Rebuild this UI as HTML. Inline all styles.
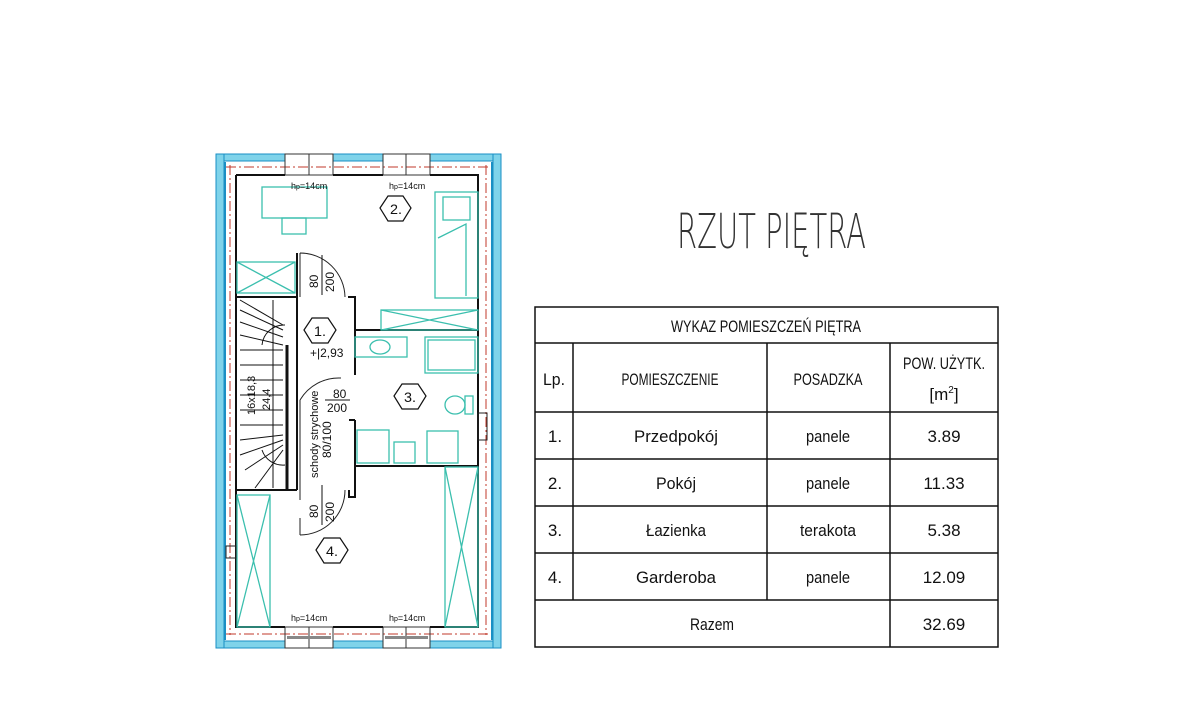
<!DOCTYPE html>
<html><head><meta charset="utf-8"><style>html,body{margin:0;padding:0;background:#fff}svg{display:block}</style></head><body>
<svg width="1184" height="719" viewBox="0 0 1184 719" xmlns="http://www.w3.org/2000/svg" font-family="Liberation Sans, sans-serif">
<rect width="1184" height="719" fill="#fff"/>
<g fill="#7fd3ea" stroke="#1a8fc4" stroke-width="1">
<rect x="216" y="154" width="8" height="494"/>
<rect x="493" y="154" width="8" height="494"/>
<rect x="224" y="154" width="61" height="7"/><rect x="333" y="154" width="50" height="7"/><rect x="430" y="154" width="63" height="7"/>
<rect x="224" y="641" width="61" height="7"/><rect x="333" y="641" width="50" height="7"/><rect x="430" y="641" width="63" height="7"/>
</g>
<g stroke="#1a8fc4" stroke-width="2" fill="none"><line x1="225" y1="162" x2="225" y2="640"/><line x1="492" y1="162" x2="492" y2="640"/></g>
<g stroke="#c0392b" stroke-width="1" stroke-dasharray="10,3,2,3" fill="none">
<line x1="230" y1="165" x2="230" y2="635"/><line x1="486" y1="165" x2="486" y2="635"/>
<line x1="226" y1="167" x2="490" y2="167"/><line x1="226" y1="634" x2="490" y2="634"/>
</g>
<g stroke="#333" stroke-width="1" fill="none">
<rect x="285" y="154" width="48" height="21"/><rect x="383" y="154" width="47" height="21"/>
<rect x="285" y="627" width="48" height="21"/><rect x="383" y="627" width="47" height="21"/>
<line x1="309" y1="154" x2="309" y2="175"/><line x1="406" y1="154" x2="406" y2="175"/>
<line x1="309" y1="627" x2="309" y2="648"/><line x1="406" y1="627" x2="406" y2="648"/>
</g>
<g fill="#888"><rect x="287" y="636" width="44" height="3"/><rect x="385" y="636" width="43" height="3"/></g>
<g stroke="#111" stroke-width="2" fill="none">
<path d="M236 175 H285 M333 175 H383 M430 175 H478 V627 H430 M383 627 H333 M285 627 H236 V175"/>
<path d="M236 297 H297 V253 M297 297 V490"/>
<path d="M348 297 H355 V330 H478"/>
<path d="M355 330 V375 M355 420 V466 H478"/>
<path d="M349 420 H355 M349 490 V497 H355 V466"/>
<path d="M236 490 H297"/>
<path d="M287 345 V490" stroke-width="3"/>
</g>
<g stroke="#222" stroke-width="1" fill="none">
<path d="M300 253 V297 M300 253 A45 45 0 0 1 345 297"/>
<path d="M300 518 V535 M300 535 A45 45 0 0 0 345 490"/>
<path d="M341 378 A45 45 0 0 0 300 400"/>
<path d="M300 400 V500"/>
</g>
<g stroke="#111" stroke-width="1" fill="none">
<line x1="240" y1="300" x2="283" y2="325"/><line x1="240" y1="310" x2="283" y2="330"/><line x1="240" y1="322" x2="283" y2="337"/><line x1="240" y1="335" x2="283" y2="345"/>
<line x1="240" y1="350" x2="283" y2="350"/><line x1="240" y1="365" x2="283" y2="365"/><line x1="240" y1="380" x2="283" y2="380"/><line x1="240" y1="395" x2="283" y2="395"/><line x1="240" y1="410" x2="283" y2="410"/><line x1="240" y1="425" x2="283" y2="425"/>
<line x1="240" y1="440" x2="283" y2="435"/><line x1="240" y1="455" x2="283" y2="440"/><line x1="245" y1="470" x2="283" y2="445"/><line x1="255" y1="488" x2="283" y2="450"/>
<line x1="273" y1="300" x2="273" y2="488"/>
<path d="M262 345 A22 22 0 0 1 285 325"/><path d="M262 450 A22 22 0 0 0 285 465"/>
</g>
<g stroke="#3bbfae" stroke-width="1.3" fill="none">
<rect x="262" y="187" width="65" height="31"/><rect x="282" y="218" width="24" height="16"/>
<rect x="435" y="192" width="43" height="106"/><rect x="443" y="197" width="27" height="23"/><path d="M438 238 L466 224 V296"/>
<rect x="237" y="262" width="58" height="31"/><path d="M237 262 L295 293 M295 262 L237 293"/>
<rect x="381" y="310" width="97" height="20"/><path d="M381 310 L478 330 M478 310 L381 330"/>
<rect x="355" y="337" width="52" height="20"/><ellipse cx="380" cy="347" rx="10" ry="7"/>
<rect x="425" y="337" width="53" height="36"/><rect x="428" y="340" width="47" height="30"/>
<ellipse cx="455" cy="405" rx="10" ry="9"/><rect x="465" y="396" width="8" height="18"/>
<rect x="357" y="430" width="32" height="33"/><rect x="394" y="442" width="21" height="21"/><rect x="427" y="431" width="31" height="32"/>
<rect x="237" y="495" width="33" height="132"/><path d="M237 495 L270 627 M270 495 L237 627"/>
<rect x="445" y="467" width="33" height="160"/><path d="M445 467 L478 627 M478 467 L445 627"/>
</g>
<g stroke="#222" fill="none"><rect x="478" y="413" width="9" height="27"/><rect x="226" y="546" width="10" height="12"/></g>
<g stroke="#111" stroke-width="1.2" fill="#fff">
<polygon points="380,208 388,196 403,196 411,208 403,221 388,221"/>
<polygon points="304,330 312,318 328,318 336,330 328,343 312,343"/>
<polygon points="394,396 402,384 418,384 426,396 418,409 402,409"/>
<polygon points="316,550 324,538 340,538 348,550 340,563 324,563"/>
</g>
<g font-size="14" text-anchor="middle" fill="#111">
<text x="396" y="214" textLength="12" lengthAdjust="spacingAndGlyphs">2.</text>
<text x="320" y="336" textLength="12" lengthAdjust="spacingAndGlyphs">1.</text>
<text x="410" y="402" textLength="12" lengthAdjust="spacingAndGlyphs">3.</text>
<text x="332" y="556" textLength="12" lengthAdjust="spacingAndGlyphs">4.</text>
</g>
<g font-size="9" fill="#111">
<text x="291" y="189">h<tspan font-size="7">p</tspan>=14cm</text><text x="389" y="189">h<tspan font-size="7">p</tspan>=14cm</text>
<text x="291" y="621">h<tspan font-size="7">p</tspan>=14cm</text><text x="389" y="621">h<tspan font-size="7">p</tspan>=14cm</text>
</g>
<g font-size="12" fill="#111">
<text x="310" y="357">+|2,93</text>
<text x="333" y="398">80</text><line x1="325" y1="400" x2="350" y2="400" stroke="#111"/>
<text x="327" y="412">200</text>
<text transform="translate(318,288) rotate(-90)">80</text>
<text transform="translate(334,292) rotate(-90)">200</text>
<line x1="322" y1="255" x2="322" y2="295" stroke="#111"/>
<text transform="translate(318,518) rotate(-90)">80</text>
<text transform="translate(334,522) rotate(-90)">200</text>
<line x1="322" y1="485" x2="322" y2="525" stroke="#111"/>
<text transform="translate(331,458) rotate(-90)">80/100</text>
<text transform="translate(318,478) rotate(-90)" font-size="11">schody strychowe</text>
<text transform="translate(255,415) rotate(-90)" font-size="11">16x18,3</text>
<text transform="translate(270,410) rotate(-90)" font-size="11">24,4</text>
</g>
<text x="677" y="248" font-size="48" fill="#333" textLength="189" lengthAdjust="spacingAndGlyphs" style="font-family:'DejaVu Sans',sans-serif;font-weight:200">RZUT PIĘTRA</text>
<g stroke="#111" stroke-width="1.5" fill="none">
<rect x="535" y="307" width="463" height="340"/>
<line x1="535" y1="343" x2="998" y2="343"/><line x1="535" y1="412" x2="998" y2="412"/>
<line x1="535" y1="459" x2="998" y2="459"/><line x1="535" y1="506" x2="998" y2="506"/><line x1="535" y1="553" x2="998" y2="553"/><line x1="535" y1="600" x2="998" y2="600"/>
<line x1="573" y1="343" x2="573" y2="600"/><line x1="767" y1="343" x2="767" y2="600"/><line x1="890" y1="343" x2="890" y2="647"/>
</g>
<g font-size="17" fill="#111" text-anchor="middle">
<text x="766" y="332" textLength="190" lengthAdjust="spacingAndGlyphs">WYKAZ POMIESZCZEŃ PIĘTRA</text>
<text x="554" y="385" textLength="22" lengthAdjust="spacingAndGlyphs">Lp.</text>
<text x="670" y="385" textLength="97" lengthAdjust="spacingAndGlyphs">POMIESZCZENIE</text>
<text x="828" y="385" textLength="69" lengthAdjust="spacingAndGlyphs">POSADZKA</text>
<text x="944" y="369" textLength="82" lengthAdjust="spacingAndGlyphs">POW. UŻYTK.</text>
<text x="944" y="400">[m<tspan font-size="10" dy="-7">2</tspan><tspan dy="7">]</tspan></text>
<text x="555" y="442">1.</text><text x="676" y="442" textLength="84" lengthAdjust="spacingAndGlyphs">Przedpokój</text><text x="828" y="442" textLength="44" lengthAdjust="spacingAndGlyphs">panele</text><text x="944" y="442">3.89</text>
<text x="555" y="489">2.</text><text x="676" y="489" textLength="40" lengthAdjust="spacingAndGlyphs">Pokój</text><text x="828" y="489" textLength="44" lengthAdjust="spacingAndGlyphs">panele</text><text x="944" y="489">11.33</text>
<text x="555" y="536">3.</text><text x="676" y="536" textLength="60" lengthAdjust="spacingAndGlyphs">Łazienka</text><text x="828" y="536" textLength="56" lengthAdjust="spacingAndGlyphs">terakota</text><text x="944" y="536">5.38</text>
<text x="555" y="583">4.</text><text x="676" y="583" textLength="80" lengthAdjust="spacingAndGlyphs">Garderoba</text><text x="828" y="583" textLength="44" lengthAdjust="spacingAndGlyphs">panele</text><text x="944" y="583">12.09</text>
<text x="712" y="630" textLength="44" lengthAdjust="spacingAndGlyphs">Razem</text><text x="944" y="630">32.69</text>
</g>
</svg>
</body></html>
